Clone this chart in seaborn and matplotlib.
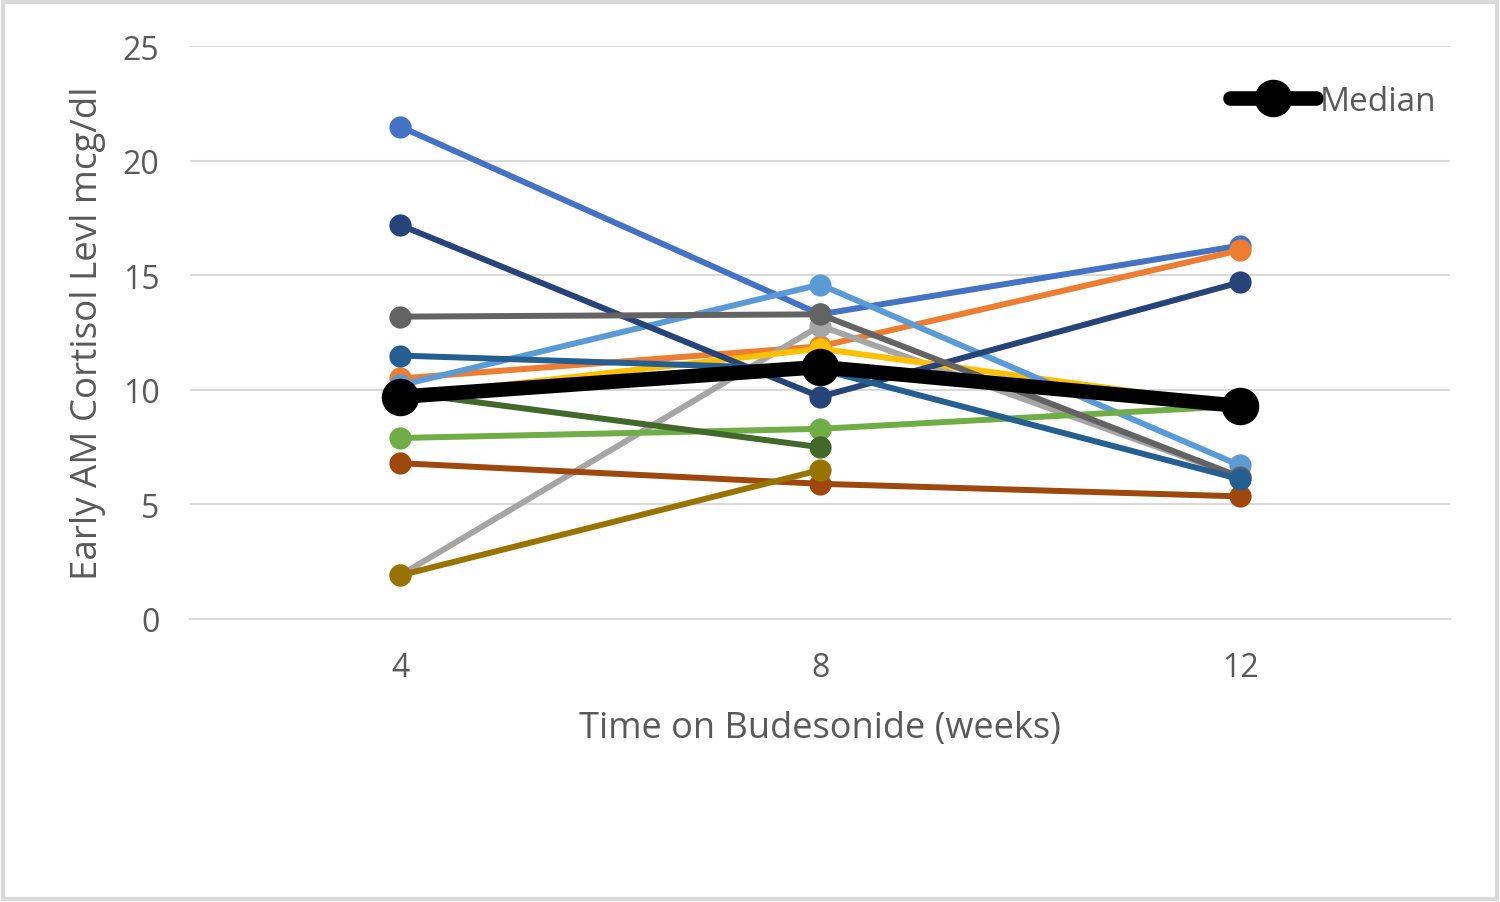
import numpy as np
import pandas as pd
import matplotlib
matplotlib.use("Agg")
import matplotlib.pyplot as plt
import seaborn as sns
from matplotlib.patches import Rectangle

# data (weeks 4, 8, 12)
weeks = ["4", "8", "12"]
patients = ["P1", "P2", "P3", "P4", "P5", "P6", "P7", "P8", "P9", "P10", "P11", "P12"]
p1 = [21.5, 13.3, 16.3]
p2 = [10.5, 11.9, 16.1]
p3 = [1.9, 12.8, 6.2]
p4 = [9.7, 11.8, 9.3]
p5 = [10.2, 14.6, 6.7]
p6 = [7.9, 8.3, 9.3]
p7 = [17.2, 9.7, 14.7]
p8 = [6.8, 5.9, 5.35]
p9 = [13.2, 13.3, 6.2]
p10 = [1.9, 6.5, np.nan]
p11 = [11.5, 10.9, 6.1]
p12 = [9.9, 7.5, np.nan]
median = [9.7, 11.0, 9.3]

colors = ["#4472C4", "#ED7D31", "#A5A5A5", "#FFC000", "#5B9BD5", "#70AD47",
          "#264478", "#9E480E", "#636363", "#997300", "#255E91", "#43682B"]

values = [p1, p2, p3, p4, p5, p6, p7, p8, p9, p10, p11, p12]
df = pd.DataFrame({
    "pos": np.tile(np.arange(len(weeks)), len(patients)),
    "val": np.concatenate(values),
    "patient": np.repeat(patients, len(weeks)),
})
med = pd.DataFrame({"pos": np.arange(len(weeks)), "val": median})

sns.set_style("white")
plt.rcParams["font.family"] = ["Open Sans", "DejaVu Sans"]

fig = plt.figure(figsize=(15, 9.03), dpi=100)
ax = fig.add_axes([0.1267, 0.3135, 0.84, 0.6340])

for name, col in zip(patients, colors):
    d = df[df["patient"] == name].dropna()
    sns.lineplot(data=d, x="pos", y="val", ax=ax, color=col, linewidth=4.3,
                 marker="o", markersize=16, markeredgewidth=0, legend=False)

sns.lineplot(data=med, x="pos", y="val", ax=ax, color="black", linewidth=10.5,
             marker="o", markersize=27, markeredgewidth=0, label="Median")

ax.set_xlim(-0.5, 2.5)
ax.set_ylim(0, 25)
ax.set_yticks(range(0, 26, 5))
ax.set_xticks(range(len(weeks)))
ax.set_xticklabels(weeks)
ax.yaxis.grid(True, color="#D9D9D9", linewidth=1.5)
for s in ax.spines.values():
    s.set_visible(False)
ax.spines["bottom"].set_visible(True)
ax.spines["bottom"].set_color("#D9D9D9")
ax.spines["bottom"].set_linewidth(1.5)
ax.tick_params(axis="both", length=0, labelsize=23, colors="#595959")
ax.tick_params(axis="y", pad=22)
ax.tick_params(axis="x", pad=23)
ax.set_xlabel("Time on Budesonide (weeks)", fontsize=26, color="#595959", labelpad=19)
ax.set_ylabel("Early AM Cortisol Levl mcg/dl", fontsize=26.5, color="#595959", labelpad=12)

leg = ax.legend(loc="upper right", frameon=False, fontsize=24, handlelength=2.6,
                handletextpad=0.1, bbox_to_anchor=(1.013, 0.985), labelcolor="#595959")

fig.patches.append(Rectangle((0.002, 0.003), 0.996, 0.994, transform=fig.transFigure,
                             fill=False, edgecolor="#D9D9D9", linewidth=3))

fig.savefig("out.png", dpi=100)
